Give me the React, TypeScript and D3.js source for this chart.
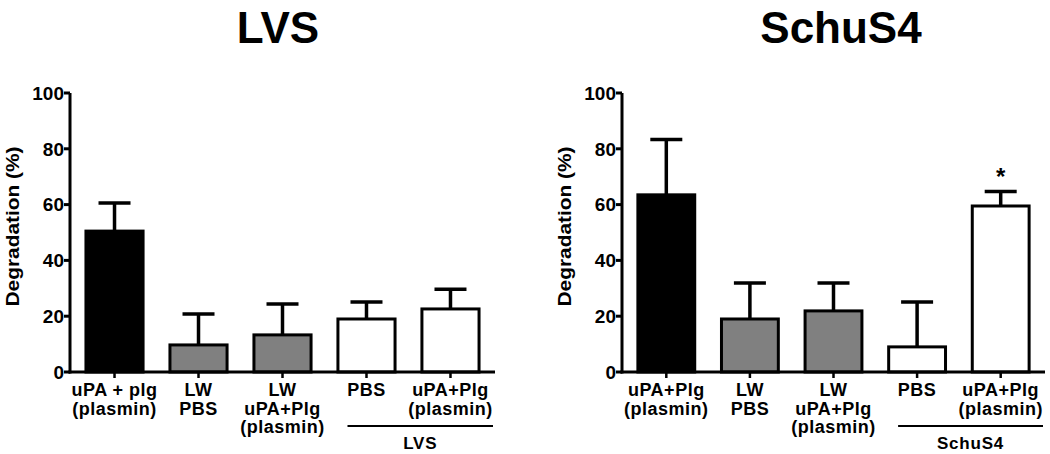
import React from "react";
import * as d3 from "d3";

// values (mean and upper error, % degradation)
const lvsMeans = [50.5, 9.7, 13.3, 19.0, 22.6];
const lvsErrors = [10.1, 11.1, 11.1, 6.1, 7.1];
const schuMeans = [63.5, 19.0, 21.9, 9.0, 59.5];
const schuErrors = [19.8, 12.9, 10.0, 16.1, 5.2];

const lvsLabels = [
  ["uPA + plg", "(plasmin)"],
  ["LW", "PBS"],
  ["LW", "uPA+Plg", "(plasmin)"],
  ["PBS"],
  ["uPA+Plg", "(plasmin)"],
];
const schuLabels = [
  ["uPA+Plg", "(plasmin)"],
  ["LW", "PBS"],
  ["LW", "uPA+Plg", "(plasmin)"],
  ["PBS"],
  ["uPA+Plg", "(plasmin)"],
];
const barFills = ["#000000", "#808080", "#808080", "#ffffff", "#ffffff"];
const yTicks = [0, 20, 40, 60, 80, 100];

const FONT = "'Liberation Sans', Arial, Helvetica, sans-serif";

type PanelProps = {
  title: string;
  titleX: number;
  x0: number;
  x1: number;
  means: number[];
  errors: number[];
  labels: string[][];
  starOn?: number;
};

function Panel({ title, titleX, x0, x1, means, errors, labels, starOn }: PanelProps) {
  const ids = means.map((_, i) => String(i));
  const x = d3.scaleBand().domain(ids).range([x0, x1]).paddingInner(0.32).paddingOuter(0.19);
  const y = d3.scaleLinear().domain([0, 100]).range([372, 93]);
  const bw = x.bandwidth();

  return (
    <g fontFamily={FONT} fontWeight="bold">
      <text x={titleX} y={43} textAnchor="middle" fontSize={44}>{title}</text>

      {/* y axis label */}
      <text
        transform={`translate(${x0 - 51},${(y(0) + y(100)) / 2 - 6}) rotate(-90)`}
        textAnchor="middle"
        fontSize={19}
        textLength={160}
        lengthAdjust="spacingAndGlyphs"
      >
        Degradation (%)
      </text>

      {/* bars */}
      {means.map((m, i) => (
        <rect
          key={"b" + i}
          x={x(ids[i])}
          y={y(m)}
          width={bw}
          height={y(0) - y(m)}
          fill={barFills[i]}
          stroke="#000"
          strokeWidth={3}
        />
      ))}

      {/* error bars (upper only) */}
      {means.map((m, i) => {
        const cx = (x(ids[i]) as number) + bw / 2;
        const top = y(m + errors[i]);
        return (
          <g key={"e" + i} stroke="#000" strokeWidth={3.5}>
            <line x1={cx} x2={cx} y1={y(m)} y2={top} />
            <line x1={cx - 16} x2={cx + 16} y1={top} y2={top} />
          </g>
        );
      })}

      {starOn !== undefined && (
        <text
          x={(x(ids[starOn]) as number) + bw / 2}
          y={y(means[starOn] + errors[starOn]) - 6}
          textAnchor="middle"
          fontSize={24}
        >
          *
        </text>
      )}

      {/* y axis */}
      <line x1={x0} x2={x0} y1={y(0) + 1.5} y2={y(100)} stroke="#000" strokeWidth={3} />
      {yTicks.map((t) => (
        <g key={"t" + t}>
          <line x1={x0 - 6} x2={x0} y1={y(t)} y2={y(t)} stroke="#000" strokeWidth={3} />
          <text x={x0 - 6} y={y(t)} dy="0.36em" textAnchor="end" fontSize={19}>
            {t}
          </text>
        </g>
      ))}

      {/* x axis */}
      <line x1={x0 - 1.5} x2={x1} y1={y(0)} y2={y(0)} stroke="#000" strokeWidth={3} />
      {ids.map((id, i) => {
        const cx = (x(id) as number) + bw / 2;
        return (
          <g key={"x" + i}>
            <line x1={cx} x2={cx} y1={y(0)} y2={y(0) + 6} stroke="#000" strokeWidth={2.5} />
            {labels[i].map((s, j) => (
              <text key={j} x={cx} y={396 + j * 18.5} textAnchor="middle" fontSize={18} letterSpacing={0.5}>
                {s}
              </text>
            ))}
          </g>
        );
      })}

      {/* group bracket */}
      {(() => {
        const a = (x(ids[3]) as number) + bw / 2 - 19;
        const b = x1 - 2;
        return (
          <g>
            <line x1={a} x2={b} y1={426} y2={426} stroke="#000" strokeWidth={2} />
            <text x={(a + b) / 2} y={449} textAnchor="middle" fontSize={17} letterSpacing={0.8}>
              {title}
            </text>
          </g>
        );
      })()}
    </g>
  );
}

export default function App() {
  return (
    <svg
      width={1050}
      height={454}
      style={{ position: "absolute", left: 0, top: 0, background: "#fff" }}
    >
      <rect width={1050} height={454} fill="#fff" />
      <Panel
        title="LVS"
        titleX={278}
        x0={70}
        x1={495}
        means={lvsMeans}
        errors={lvsErrors}
        labels={lvsLabels}
      />
      <Panel
        title="SchuS4"
        titleX={841}
        x0={622}
        x1={1045}
        means={schuMeans}
        errors={schuErrors}
        labels={schuLabels}
        starOn={4}
      />
    </svg>
  );
}
